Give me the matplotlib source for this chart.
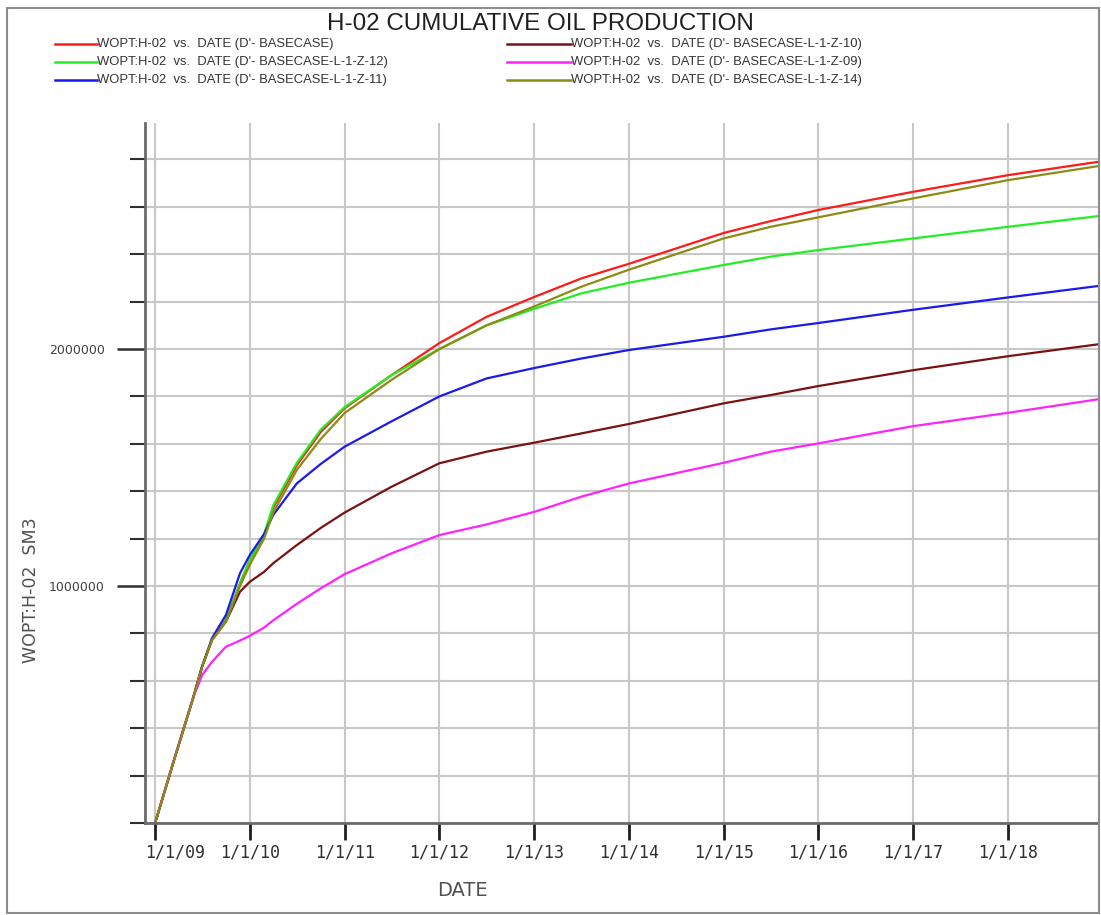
import matplotlib
matplotlib.use("Agg")
import numpy as np
import matplotlib.pyplot as plt
from matplotlib.ticker import FixedLocator, MultipleLocator, FuncFormatter
from matplotlib.lines import Line2D
from matplotlib.patches import Rectangle
from matplotlib.transforms import ScaledTranslation

# Report dates for the well H-02 summary vectors
dates = [
    "2009-01-01", "2009-03-15", "2009-05-27", "2009-07-01", "2009-08-08",
    "2009-10-01", "2009-11-24", "2010-01-01", "2010-02-25", "2010-04-01",
    "2010-07-01", "2010-10-01", "2011-01-01", "2011-07-01", "2012-01-01",
    "2012-07-01", "2013-01-01", "2013-07-01", "2014-01-01", "2015-01-01",
    "2015-07-01", "2016-01-01", "2017-01-01", "2018-01-01", "2018-12-13",
]

# Cumulative oil production WOPT:H-02 per case, million SM3
wopt_basecase = [0, 0.266, 0.526, 0.66, 0.772, 0.857, 1.011, 1.11, 1.21, 1.33,
                 1.51, 1.65, 1.75, 1.89, 2.025, 2.136, 2.22, 2.298, 2.36, 2.49,
                 2.54, 2.587, 2.664, 2.734, 2.79]
wopt_z12 = [0, 0.266, 0.526, 0.66, 0.772, 0.857, 1.011, 1.11, 1.22, 1.34,
            1.52, 1.66, 1.755, 1.89, 2.00, 2.10, 2.17, 2.235, 2.28, 2.355,
            2.39, 2.418, 2.467, 2.516, 2.561]
wopt_z11 = [0, 0.266, 0.526, 0.66, 0.78, 0.878, 1.054, 1.131, 1.22, 1.30,
            1.433, 1.515, 1.588, 1.695, 1.80, 1.876, 1.92, 1.96, 1.996, 2.052,
            2.083, 2.11, 2.166, 2.218, 2.266]
wopt_z10 = [0, 0.266, 0.526, 0.66, 0.772, 0.85, 0.976, 1.018, 1.06, 1.096,
            1.173, 1.245, 1.31, 1.419, 1.518, 1.567, 1.605, 1.644, 1.684, 1.771,
            1.806, 1.844, 1.911, 1.97, 2.02]
wopt_z09 = [0, 0.266, 0.526, 0.624, 0.68, 0.744, 0.77, 0.79, 0.825, 0.855,
            0.925, 0.99, 1.05, 1.138, 1.215, 1.26, 1.313, 1.377, 1.433, 1.52,
            1.567, 1.602, 1.675, 1.731, 1.788]
wopt_z14 = [0, 0.266, 0.526, 0.66, 0.772, 0.85, 1.0, 1.09, 1.20, 1.31,
            1.49, 1.62, 1.73, 1.87, 2.00, 2.10, 2.18, 2.263, 2.335, 2.467,
            2.516, 2.556, 2.636, 2.713, 2.772]

case_names = ["D'- BASECASE", "D'- BASECASE-L-1-Z-12", "D'- BASECASE-L-1-Z-11",
              "D'- BASECASE-L-1-Z-10", "D'- BASECASE-L-1-Z-09", "D'- BASECASE-L-1-Z-14"]
case_values = [wopt_basecase, wopt_z12, wopt_z11, wopt_z10, wopt_z09, wopt_z14]
case_colors = ["#ff1a1a", "#22ee22", "#1a1aee", "#7a1212", "#ff22ff", "#8c8c14"]

tick_dates = ["2009-01-01", "2010-01-01", "2011-01-01", "2012-01-01", "2013-01-01",
              "2014-01-01", "2015-01-01", "2016-01-01", "2017-01-01", "2018-01-01"]
tick_labels = ["1/1/09", "1/1/10", "1/1/11", "1/1/12", "1/1/13",
               "1/1/14", "1/1/15", "1/1/16", "1/1/17", "1/1/18"]

W, H = 1101, 915
fig = plt.figure(figsize=(W / 100, H / 100), dpi=100)
fig.patch.set_facecolor("white")

left, right, bottom, top = 145, 1098, 823, 123
ax = fig.add_axes([left / W, 1 - bottom / H, (right - left) / W, (bottom - top) / H])

t = np.array(dates, dtype="datetime64[D]")
for vals, col in zip(case_values, case_colors):
    ax.plot(t, np.array(vals) * 1e6, color=col, lw=1.6, solid_joinstyle="round")

ax.set_xlim(np.datetime64("2008-11-23"), np.datetime64("2018-12-13"))
ax.set_ylim(0, 2.954e6)

# Axis ticks
tick_pos = np.array(tick_dates, dtype="datetime64[D]")
ax.set_xticks(tick_pos)
ax.set_xticklabels(tick_labels)
ax.yaxis.set_major_locator(FixedLocator([1e6, 2e6]))
ax.yaxis.set_major_formatter(FuncFormatter(lambda v, p: f"{int(round(v))}"))
ax.yaxis.set_minor_locator(MultipleLocator(2e5))

grid_kw = dict(color="#c8c8c8", lw=1.5)
ax.grid(axis="y", which="both", **grid_kw)
ax.grid(axis="x", which="major", **grid_kw)
ax.set_axisbelow(True)

for s in ("top", "right"):
    ax.spines[s].set_visible(False)
for s in ("left", "bottom"):
    ax.spines[s].set_color("#6a6a6a")
    ax.spines[s].set_linewidth(2)

ax.tick_params(axis="y", which="major", length=20, width=1.8, color="#303030",
               pad=9, labelsize=9, labelcolor="#404040")
ax.tick_params(axis="y", which="minor", length=11, width=1.5, color="#303030")
ax.tick_params(axis="x", which="major", length=12, width=2.0, color="#202020",
               pad=3, labelsize=12, labelcolor="#303030")
xlabels = ax.get_xticklabels()
for lab in xlabels:
    lab.set_fontfamily("DejaVu Sans Mono")
# first date label sits clear of the y axis
xlabels[0].set_transform(xlabels[0].get_transform()
                         + ScaledTranslation(0.20, 0, fig.dpi_scale_trans))

# Axis titles
fig.text(462 / W, 1 - 891 / H, "DATE", ha="center", va="center",
         fontsize=14, color="#505050")
fig.text(31 / W, 1 - 590 / H, "WOPT:H-02  SM3", ha="center", va="center",
         rotation=90, fontsize=12.5, color="#505050")

# Title
fig.text(540 / W, 1 - 24 / H, "H-02 CUMULATIVE OIL PRODUCTION", ha="center",
         va="center", fontsize=17.4, family="Liberation Sans", color="#202020")

# Legend in two columns across the top
row_y = [43.5, 61.5, 79.5]
col_line = [(55, 97), (507, 571)]
for i, (name, col) in enumerate(zip(case_names, case_colors)):
    c, r = divmod(i, 3)
    x0, x1 = col_line[c]
    yy = 1 - row_y[r] / H
    fig.add_artist(Line2D([x0 / W, x1 / W], [yy, yy], color=col, lw=1.8,
                          transform=fig.transFigure))
    fig.text(x1 / W, yy, f"WOPT:H-02  vs.  DATE ({name})", ha="left", va="center",
             fontsize=9.4, family="Liberation Sans", color="#333333")

# Outer frame
fig.add_artist(Rectangle((7 / W, 2 / H), (1099 - 7) / W, (907 - 2) / H,
                         transform=fig.transFigure, fill=False,
                         edgecolor="#8c8c8c", lw=1.5))

fig.savefig("out.png", dpi=100)
